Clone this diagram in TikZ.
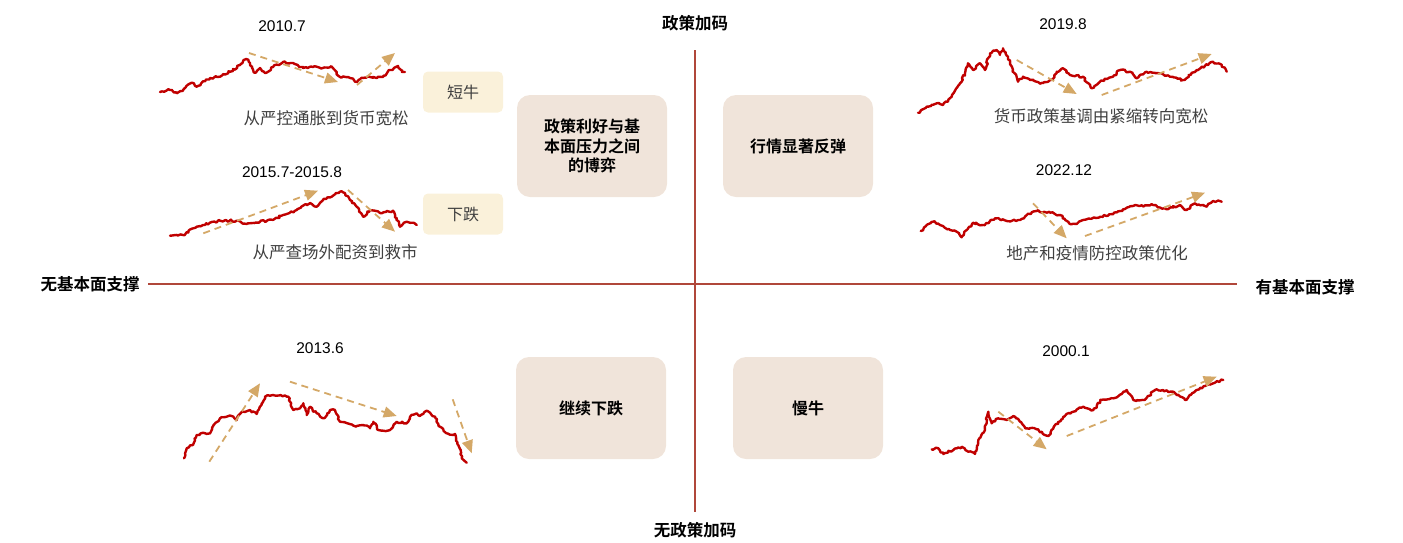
\documentclass[tikz,border=0pt]{standalone}
\usepackage{fontspec}
\setmainfont{Liberation Sans}
\newfontfamily\cjk{Noto Sans CJK SC}
\newfontfamily\cjkb{Noto Sans CJK SC Bold}
\usetikzlibrary{arrows.meta,decorations.pathmorphing}
\definecolor{cred}{HTML}{C00000}
\definecolor{axisc}{HTML}{B0473A}
\definecolor{tan}{HTML}{D4A867}
\definecolor{boxfill}{HTML}{F0E4DA}
\definecolor{smallfill}{HTML}{FAF1DA}
\definecolor{labgray}{HTML}{404040}
\tikzset{
  redline/.style={draw=cred, line width=2.4pt, line join=round, line cap=round,
    decorate, decoration={random steps,segment length=2pt,amplitude=1.1pt}},
  trend/.style={draw=tan, line width=1.8pt, dash pattern=on 7pt off 5pt,
    -{Triangle[length=13pt,width=11pt,fill=tan]}},
  bigbox/.style={fill=boxfill, rounded corners=13pt, minimum width=150pt, minimum height=102pt,
    align=center, font=\cjkb\fontsize{16}{19.5}\selectfont, inner sep=0pt},
  smallbox/.style={fill=smallfill, rounded corners=5pt, minimum width=80pt, minimum height=41pt,
    font=\cjk\fontsize{16}{19}\selectfont, text=labgray, inner sep=0pt},
  datelab/.style={font=\fontsize{15.5}{18}\selectfont, text=black, inner sep=0pt},
  desclab/.style={font=\cjk\fontsize{16.5}{19}\selectfont, text=labgray, inner sep=0pt},
  axislab/.style={font=\cjkb\fontsize{16.5}{19}\selectfont, text=black, inner sep=0pt},
}
\begin{document}
\begin{tikzpicture}[x=1pt,y=-1pt]
\pgfmathsetseed{7}
\useasboundingbox (0,0) rectangle (1403,542);

% axes
\coordinate (hl) at (148,284);
\coordinate (hr) at (1237,284);
\coordinate (vt) at (695,50);
\coordinate (vb) at (695,512);
\draw[axisc, line width=2pt] (hl) -- (hr);
\draw[axisc, line width=2pt] (vt) -- (vb);
\node[axislab] (lleft) at (90,284) {无基本面支撑};
\node[axislab] (lright) at (1305,287) {有基本面支撑};
\node[axislab] (ltop) at (695,23) {政策加码};
\node[axislab] (lbot) at (695,530) {无政策加码};

% boxes
\node[bigbox] (b1) at (592,146) {政策利好与基\\本面压力之间\\的博弈};
\node[bigbox] (b2) at (798,146) {行情显著反弹};
\node[bigbox] (b3) at (591,408) {继续下跌};
\node[bigbox] (b4) at (808,408) {慢牛};
\node[smallbox] (s1) at (463,92) {短牛};
\node[smallbox] (s2) at (463,214) {下跌};

% labels
\node[datelab] (d1) at (282,26) {2010.7};
\node[desclab] (t1) at (326,118) {从严控通胀到货币宽松};
\node[datelab] (d2) at (292,172) {2015.7-2015.8};
\node[desclab] (t2) at (335,252) {从严查场外配资到救市};
\node[datelab] (d3) at (1063,24) {2019.8};
\node[desclab] (t3) at (1101,116) {货币政策基调由紧缩转向宽松};
\node[datelab] (d4) at (1064,170) {2022.12};
\node[desclab] (t4) at (1097,253) {地产和疫情防控政策优化};
\node[datelab] (d5) at (320,348) {2013.6};
\node[datelab] (d6) at (1066,351) {2000.1};

% chart 1: 2010.7
\draw[redline] plot coordinates {(160,92) (170,90) (176.7,93.3) (183,90) (191.7,82.7) (196.7,86.7) (210,78) (220,76.7) (230,71.7) (240,65) (246,59) (250,63) (255,73) (260,68) (265,73) (273,67) (283,62) (293,63) (303,68) (313,67) (323,68) (332,67) (340,77) (350,78) (357,82) (363,78) (370,77) (383,77) (390,70) (398,66) (402,72) (405,72)};
\draw[trend] (249,53) -- (338,82);
\draw[trend] (357,85) -- (395,53);

% chart 2: 2015.7-2015.8
\draw[redline] plot coordinates {(170,235.7) (183,235) (196.7,226.7) (220,220.7) (236.7,220.7) (246.7,224) (260,221.7) (273,220) (283,215) (296.7,210) (310,203) (316.7,206.7) (323,200) (331.7,196.7) (340,191.7) (345,193) (350,200) (356.7,206.7) (363,216.7) (370,210) (380,213) (393,210.7) (400,226.7) (406.7,221.7) (413,222.7) (416.7,225)};
\draw[trend] (203.3,233.3) -- (318,190.7);
\draw[trend] (348,190) -- (395,231.7);

% chart 3: 2019.8
\draw[redline] plot coordinates {(918,112.7) (926.7,106.7) (936.7,103.3) (943,105) (951.7,96.7) (960,83.3) (965,73.3) (968,63.3) (973,70) (980,63.3) (985,70) (990,53.3) (996.7,50) (1000,55) (1003,48.3) (1008,56.7) (1013,70) (1018,81.7) (1023,76.7) (1030,80) (1043,83.3) (1051.7,80) (1056.7,71.7) (1063,68.3) (1070,75) (1083,76.7) (1091.7,88.3) (1100,81.7) (1113,76.7) (1120,70) (1130,71.7) (1136.7,78.3) (1146.7,71.7) (1160,73.3) (1170,76.7) (1183,80) (1196.7,70) (1213,61.7) (1221.7,65) (1226.7,71.7)};
\draw[trend] (1016.7,60) -- (1076.7,94);
\draw[trend] (1101.7,95) -- (1211.7,54);

% chart 4: 2022.12
\draw[redline] plot coordinates {(920.7,231) (926.7,225) (933,221.7) (940,225) (950,230) (956.7,231.7) (961.7,237.3) (966.7,230) (973,222.7) (983,225) (990,221) (996.7,218.3) (1006.7,221) (1020,220) (1026.7,215) (1036.7,211) (1050,212.7) (1060,215) (1070,224) (1076.7,224) (1083,220) (1100,216.7) (1113,214.3) (1123,209.3) (1133,206) (1153,205) (1166.7,209.3) (1180,205) (1186.7,210) (1195,203.3) (1206.7,206.7) (1213,201) (1221.7,201.7)};
\draw[trend] (1033,203.3) -- (1066.7,238.3);
\draw[trend] (1085,236) -- (1205,192.7);

% chart 5: 2013.6
\draw[redline] plot coordinates {(184,458.3) (186.7,448.3) (193,445) (196.7,435) (203,432.7) (210,433.3) (213,426.7) (220,418.3) (231.7,416) (236.7,420) (241.7,411.7) (250,410) (256.7,414) (265,396.7) (273,395) (288.3,396.7) (293.3,410) (300,408.3) (303.3,403.3) (306.7,415) (310,406.7) (316.7,413.3) (323.3,418.3) (330,410) (335,410) (340,421.7) (356.7,426) (363.3,425) (370,428.3) (373.3,421.7) (378.3,430) (390,430) (396.7,421.7) (406.7,423.3) (410,416.7) (416.7,413.3) (420,416) (426.7,410.7) (435,416.7) (440,426.7) (446.7,433.3) (455,434) (458.3,445) (461.7,458.3) (466.7,462.7)};
\draw[trend] (209.3,461.7) -- (260,383.3);
\draw[trend] (290,381.7) -- (396.7,416);
\draw[trend] (452.7,399.3) -- (471.7,453.3);

% chart 6: 2000.1
\draw[redline] plot coordinates {(931.7,449.3) (938.3,448.3) (943.3,454) (953.3,450) (961.7,446.7) (968.3,451.7) (975,454) (978.3,440) (985,430) (988.3,411.7) (991.7,423.3) (998.3,418.3) (1006.7,420) (1013.3,416) (1020,421.7) (1026.7,428.3) (1036.7,429.3) (1048.3,436) (1053.3,428.3) (1063.3,416.7) (1073.3,411.7) (1083.3,406.7) (1093.3,410) (1101.7,400) (1113.3,398.3) (1126.7,390) (1133.3,400) (1143.3,400) (1156.7,389.3) (1173.3,391.7) (1185,400) (1196.7,390) (1206.7,385) (1213.3,383.3) (1223.3,380)};
\draw[trend] (998.3,411.7) -- (1046.7,449.3);
\draw[trend] (1066.7,436) -- (1216.7,376.7);
\end{tikzpicture}
\end{document}
